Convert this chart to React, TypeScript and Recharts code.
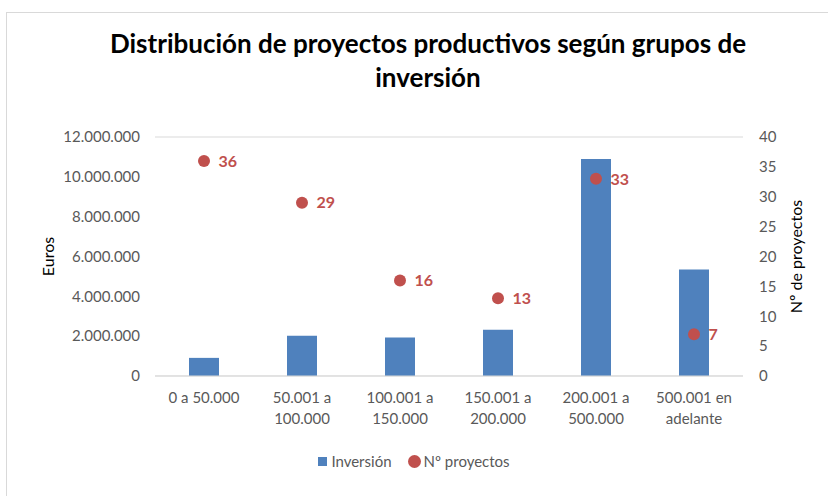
import {
  ComposedChart, Bar, Scatter, XAxis, YAxis, CartesianGrid, Legend, LabelList,
} from 'recharts'

const tramos = ['0 a 50.000', '50.001 a 100.000', '100.001 a 150.000', '150.001 a 200.000', '200.001 a 500.000', '500.001 en adelante']
const inversion = [910000, 2020000, 1930000, 2320000, 10890000, 5350000]
const proyectos = [36, 29, 16, 13, 33, 7]
const eurosTicks = [0, 2000000, 4000000, 6000000, 8000000, 10000000, 12000000]
const proyTicks = [0, 5, 10, 15, 20, 25, 30, 35, 40]

const data = tramos.map((t, i) => ({ tramo: t, inversion: inversion[i], proyectos: proyectos[i] }))

const BLUE = '#4f81bd'
const RED = '#c0504d'
const GREY = '#595959'
const FONT = 'Lato, "Open Sans", sans-serif'

const fmt = (v: number) => v.toLocaleString('de-DE')

function wrap(label: string, max = 11) {
  const lines: string[] = []
  let cur = ''
  for (const w of label.split(' ')) {
    const next = cur ? cur + ' ' + w : w
    if (next.length > max && cur) {
      lines.push(cur)
      cur = w
    } else cur = next
  }
  if (cur) lines.push(cur)
  return lines
}

const CatTick = (props: any) => {
  const { x, y, payload } = props
  const lines = wrap(payload.value)
  return (
    <text x={x} y={y} textAnchor="middle" fill={GREY} fontSize={15} fontFamily={FONT}>
      {lines.map((l, i) => (
        <tspan key={i} x={x} dy={i === 0 ? 19 : 21}>{l}</tspan>
      ))}
    </text>
  )
}

const Dot = (props: any) => <circle cx={props.cx} cy={props.cy} r={6} fill={RED} />

const LegendBox = () => (
  <div style={{ display: 'flex', justifyContent: 'center', alignItems: 'center', gap: 16, fontFamily: FONT, fontSize: 15, color: GREY, marginTop: 16 }}>
    <span style={{ display: 'flex', alignItems: 'center', gap: 4 }}>
      <span style={{ width: 9, height: 9, background: BLUE, display: 'inline-block' }} />Inversión
    </span>
    <span style={{ display: 'flex', alignItems: 'center', gap: 3 }}>
      <span style={{ width: 13, height: 13, borderRadius: '50%', background: RED, display: 'inline-block' }} />Nº proyectos
    </span>
  </div>
)

const SideLabel = (cx: number, text: string) => (props: any) => {
  const vb = props.viewBox
  const cy = vb.y + vb.height / 2
  return (
    <text x={cx} y={cy} transform={`rotate(-90 ${cx} ${cy})`} textAnchor="middle" dominantBaseline="central"
      fill="#000" fontSize={16} fontFamily={FONT}>{text}</text>
  )
}

export default function App() {
  return (
    <div style={{ position: 'absolute', left: 0, top: 0, width: 828, height: 496, background: '#fff' }}>
      <div style={{ position: 'absolute', left: 6, top: 12, width: 840, height: 500, border: '1px solid #d9d9d9' }} />
      <div style={{
        position: 'absolute', left: 0, top: 26, width: 856, textAlign: 'center', fontFamily: FONT,
        fontWeight: 700, fontSize: 26, lineHeight: '34px', color: '#000',
      }}>
        Distribución de proyectos productivos según grupos de<br />inversión
      </div>
      <ComposedChart width={828} height={496} data={data} margin={{ top: 137, right: 0, left: 0, bottom: 30 }}
        style={{ position: 'absolute', left: 0, top: 0 }}>
        <CartesianGrid vertical={false} stroke="#d9d9d9" />
        <XAxis dataKey="tramo" tick={<CatTick />} tickLine={false} axisLine={{ stroke: '#d9d9d9' }} height={60} interval={0} />
        <YAxis yAxisId="left" width={155} domain={[0, 12000000]} ticks={eurosTicks} tickFormatter={fmt}
          tick={{ fill: GREY, fontSize: 15, fontFamily: FONT }} tickLine={false} axisLine={false} tickSize={0} tickMargin={15}
          label={{ content: SideLabel(47, 'Euros') }} />
        <YAxis yAxisId="right" orientation="right" width={85} domain={[0, 40]} ticks={proyTicks}
          tick={{ fill: GREY, fontSize: 15, fontFamily: FONT }} tickLine={false} axisLine={false} tickSize={0} tickMargin={16}
          label={{ content: SideLabel(795, 'Nº de proyectos') }} />
        <Bar yAxisId="left" dataKey="inversion" name="Inversión" fill={BLUE} barSize={30} isAnimationActive={false} />
        <Scatter yAxisId="right" dataKey="proyectos" name="Nº proyectos" fill={RED} shape={<Dot />} isAnimationActive={false}>
          <LabelList dataKey="proyectos" position="right" offset={10} fill={RED} fontSize={16} fontWeight={700} fontFamily={FONT} />
        </Scatter>
        <Legend content={<LegendBox />} verticalAlign="bottom" height={30} />
      </ComposedChart>
    </div>
  )
}
